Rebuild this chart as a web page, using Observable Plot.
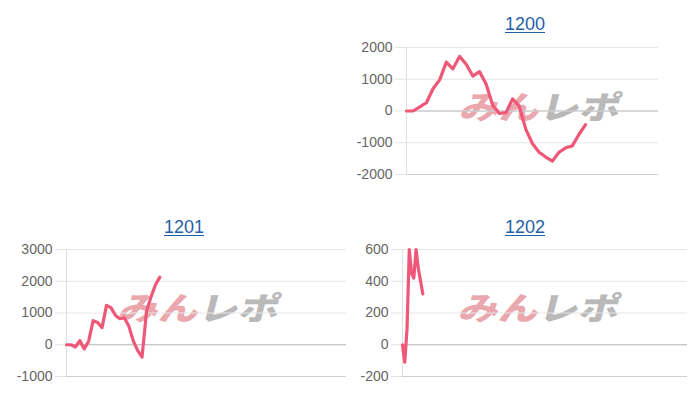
<!DOCTYPE html>
<html><head><meta charset="utf-8">
<script src="https://cdn.jsdelivr.net/npm/d3@7"></script>
<script src="https://cdn.jsdelivr.net/npm/@observablehq/plot@0.6"></script>
<style>
body{margin:0;background:#fff;font-family:"Liberation Sans",Arial,sans-serif;}
#root{position:relative;width:700px;height:400px;overflow:hidden;}
.title{position:absolute;width:200px;text-align:center;font-size:18px;line-height:18px;color:#1f5fa8;text-decoration:underline;text-underline-offset:2px;}
.wm{position:absolute;white-space:nowrap;font-family:"Noto Sans CJK JP";font-weight:900;font-size:32px;line-height:32px;transform:translate(-50%,-50%) skewX(-14deg) scaleX(1.25);}
.wm .a{color:#eaa7ad;}
.wm .b{color:#b9b9b9;}
.panel{position:absolute;}
</style></head><body><div id="root"></div>
<script>
// ---- data ----
const titles = ["1200", "1201", "1202"];
const values1200 = [0, 0, 130, 260, 700, 980, 1540, 1330, 1720, 1470, 1100, 1240, 850, 180, -80, -50, 380, 150, -580, -1030, -1300, -1450, -1580, -1300, -1160, -1100, -740, -430];
const values1201 = [0, 0, -70, 130, -130, 120, 760, 700, 540, 1240, 1170, 930, 820, 850, 600, 130, -180, -390, 1050, 1500, 1880, 2130];
const values1202 = [0, -110, 100, 600, 450, 420, 600, 480, 400, 320];
const xMax = [38, 63, 126];
const ticks1200 = [-2000, -1000, 0, 1000, 2000];
const ticks1201 = [-1000, 0, 1000, 2000, 3000];
const ticks1202 = [-200, 0, 200, 400, 600];
const wmPink = "みん";
const wmGray = "レポ";

const series = [values1200, values1201, values1202];
const tickSets = [ticks1200, ticks1201, ticks1202];

// ---- layout ----
const layout = [
  {left: 350, top: 40, width: 330, height: 150, mL: 56, mR: 22, mT: 7, mB: 16, tx: 525, ty: 15, wx: 542, wy: 105},
  {left: 0, top: 240, width: 350, height: 150, mL: 66, mR: 4, mT: 9, mB: 14, tx: 184, ty: 218, wx: 201, wy: 306},
  {left: 350, top: 240, width: 350, height: 150, mL: 52, mR: 13, mT: 9, mB: 14, tx: 525, ty: 218, wx: 541, wy: 306}
];

const root = document.getElementById("root");

series.forEach((vals, k) => {
  const L = layout[k];
  const ticks = tickSets[k];

  const t = document.createElement("div");
  t.className = "title";
  t.style.left = (L.tx - 100) + "px";
  t.style.top = L.ty + "px";
  t.textContent = titles[k];
  root.appendChild(t);

  const wm = document.createElement("div");
  wm.className = "wm";
  wm.style.left = L.wx + "px";
  wm.style.top = L.wy + "px";
  wm.innerHTML = `<span class="a">${wmPink}</span><span class="b">${wmGray}</span>`;
  root.appendChild(wm);

  const chart = Plot.plot({
    width: L.width,
    height: L.height,
    marginLeft: L.mL,
    marginRight: L.mR,
    marginTop: L.mT,
    marginBottom: L.mB,
    style: {background: "transparent", fontFamily: "Liberation Sans, Arial, sans-serif", fontSize: "14px", overflow: "visible"},
    x: {domain: [0, xMax[k]], axis: null},
    y: {domain: [ticks[0], ticks[ticks.length - 1]], axis: null},
    marks: [
      Plot.gridY(ticks, {stroke: "#e6e6e6", strokeOpacity: 1}),
      Plot.axisY(ticks, {tickSize: 11, tickPadding: 3, stroke: "#e3e3e3", fill: "#666", fontSize: 14, label: null, tickFormat: d => String(d)}),
      Plot.ruleX([0], {stroke: "#e0e0e0"}),
      Plot.ruleY([0], {stroke: "#bdbdbd"}),
      Plot.ruleY([ticks[0]], {stroke: "#d0d0d0"}),
      Plot.lineY(vals, {x: (d, i) => i, y: d => d, stroke: "#ef5778", strokeWidth: 3.2, strokeLinejoin: "round", strokeLinecap: "round"})
    ]
  });
  const wrap = document.createElement("div");
  wrap.className = "panel";
  wrap.style.left = L.left + "px";
  wrap.style.top = L.top + "px";
  wrap.appendChild(chart);
  root.appendChild(wrap);
});
</script>
</body></html>
